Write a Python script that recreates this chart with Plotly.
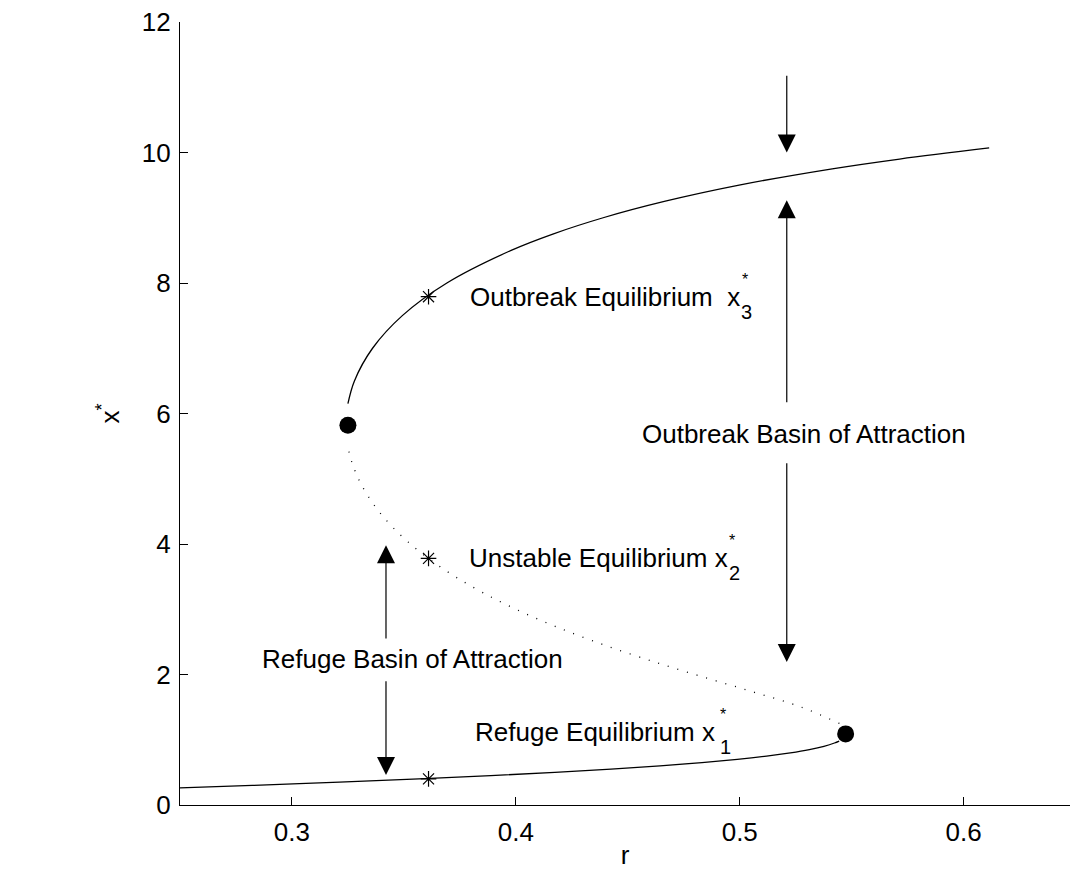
import plotly.graph_objects as go

# Lower (refuge) stable branch
lower_x = [0.26, 0.30, 0.35, 0.40, 0.45, 0.50, 0.55, 0.60, 0.65, 0.70, 0.75, 0.80, 0.85, 0.90, 0.95, 0.98]
lower_r = [0.2489, 0.2823, 0.3212, 0.3567, 0.3888, 0.4174, 0.4425, 0.4644, 0.4831, 0.4989, 0.5120, 0.5226, 0.5311, 0.5376, 0.5423, 0.5444]

# Unstable (middle) branch
unstable_x = [1.25, 1.5, 1.75, 2.0, 2.25, 2.5, 2.75, 3.0, 3.25, 3.5, 3.75, 4.0, 4.25, 4.5, 4.75, 5.0, 5.25, 5.5]
unstable_r = [0.5445, 0.5275, 0.5043, 0.48, 0.4568, 0.4356, 0.4167, 0.4, 0.3855, 0.3729, 0.3621, 0.3529, 0.3452, 0.3388, 0.3337, 0.3297, 0.3268, 0.3249]

# Upper (outbreak) stable branch
upper_x = [6.15, 6.5, 7.0, 7.5, 8.0, 8.5, 8.75, 9.0, 9.25, 9.5, 9.75, 9.9, 10.07]
upper_r = [0.3250, 0.3279, 0.3360, 0.3493, 0.3692, 0.3979, 0.4165, 0.4390, 0.4663, 0.4997, 0.5413, 0.5714, 0.6114]

# Fold (saddle-node) points
fold_r = [0.3250, 0.5473]
fold_x = [5.82, 1.09]

# Equilibria at r = 0.36
star_r = [0.361, 0.361, 0.361]
star_x = [0.40, 3.78, 7.79]

FONT = "Liberation Sans, Arial, Helvetica, sans-serif"
FS = 26

fig = go.Figure()
fig.add_trace(go.Scatter(x=lower_r, y=lower_x, mode="lines", line=dict(color="black", width=1.3, shape="spline"), hoverinfo="skip"))
fig.add_trace(go.Scatter(x=unstable_r, y=unstable_x, mode="lines", line=dict(color="black", width=1.3, dash="1px,9px", shape="spline"), hoverinfo="skip"))
fig.add_trace(go.Scatter(x=upper_r, y=upper_x, mode="lines", line=dict(color="black", width=1.3, shape="spline"), hoverinfo="skip"))
fig.add_trace(go.Scatter(x=fold_r, y=fold_x, mode="markers", marker=dict(color="black", size=17), hoverinfo="skip"))
fig.add_trace(go.Scatter(x=star_r, y=star_x, mode="markers", marker=dict(symbol="asterisk-open", color="black", size=13, line=dict(color="black", width=1.2)), hoverinfo="skip"))

annotations = []

def arrow(x0, y0, x1, y1):
    annotations.append(dict(x=x1, y=y1, ax=x0, ay=y0, xref="x", yref="y", axref="x", ayref="y",
                            text="", showarrow=True, arrowhead=2, arrowsize=3, arrowwidth=1.2,
                            arrowcolor="black", standoff=0, startstandoff=0))

arrow(0.521, 11.2, 0.521, 10.0)
arrow(0.521, 6.15, 0.521, 9.27)
arrow(0.521, 5.26, 0.521, 2.19)
arrow(0.342, 2.53, 0.342, 3.98)
arrow(0.342, 1.92, 0.342, 0.46)

def text(x, y, s, size=FS, xanchor="left"):
    annotations.append(dict(x=x, y=y, xref="x", yref="y", text=s, showarrow=False,
                            xanchor=xanchor, yanchor="middle", font=dict(family=FONT, size=size, color="black")))

text(0.3787, 7.79, "Outbreak Equilibrium  x")
text(0.4997, 7.56, "3", size=20)
text(0.4999, 8.05, "*", size=16)

text(0.3783, 3.79, "Unstable Equilibrium x")
text(0.4942, 3.56, "2", size=20)
text(0.4944, 4.05, "*", size=16)

text(0.3810, 1.12, "Refuge Equilibrium x")
text(0.4903, 0.89, "1", size=20)
text(0.4905, 1.38, "*", size=16)

text(0.3538, 2.24, "Refuge Basin of Attraction", xanchor="center")
text(0.5288, 5.69, "Outbreak Basin of Attraction", xanchor="center")

fig.update_layout(
    width=1070, height=870,
    margin=dict(l=180, r=0, t=22, b=65, pad=0),
    paper_bgcolor="white", plot_bgcolor="white",
    showlegend=False,
    font=dict(family=FONT, size=FS, color="black"),
    annotations=annotations,
    xaxis=dict(range=[0.25, 0.6475], tickvals=[0.3, 0.4, 0.5, 0.6], ticktext=["0.3", "0.4", "0.5", "0.6"],
               ticks="inside", ticklen=8, tickwidth=1, tickcolor="black",
               showline=True, linecolor="black", linewidth=1.3, mirror=False,
               showgrid=False, zeroline=False, ticklabelstandoff=4,
               tickfont=dict(family=FONT, size=FS),
               title=dict(text="r", font=dict(family=FONT, size=FS), standoff=0)),
    yaxis=dict(range=[0, 12], tickvals=[0, 2, 4, 6, 8, 10, 12],
               ticks="inside", ticklen=8, tickwidth=1, tickcolor="black",
               showline=True, linecolor="black", linewidth=1.3, mirror=False,
               showgrid=False, zeroline=False, ticklabelstandoff=3,
               tickfont=dict(family=FONT, size=FS),
               title=dict(text="x<sup>*</sup>", font=dict(family=FONT, size=FS), standoff=14)),
)

fig.write_html("out.html")
